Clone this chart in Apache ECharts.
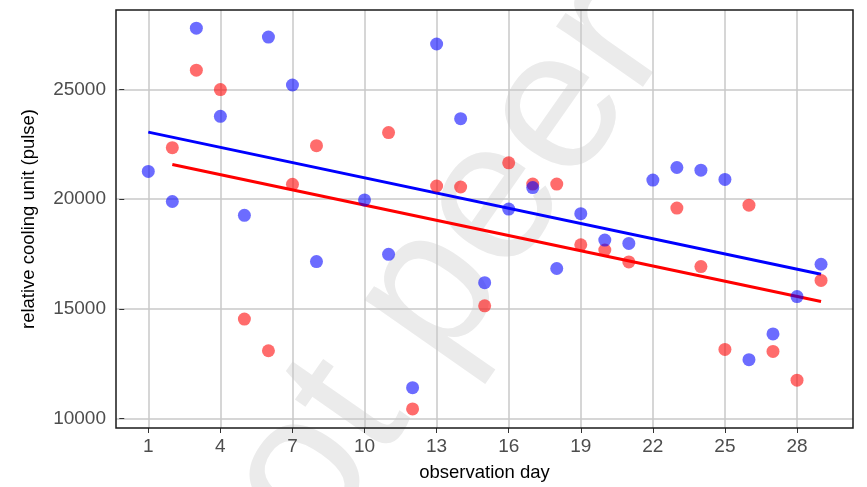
<!DOCTYPE html>
<html>
<head>
<meta charset="utf-8">
<script src="https://cdn.jsdelivr.net/npm/echarts@6/dist/echarts.min.js"></script>
<style>html,body{margin:0;padding:0;background:#fff}#c{width:867px;height:487px}</style>
</head>
<body>
<div id="c"></div>
<script>
const blueDays   = [1,2,3,4,5,6,7,8,10,11,12,13,14,15,16,17,18,19,20,21,22,23,24,25,26,27,28,29];
const blueValues = [21263,19894,27801,23780,19262,27394,25208,17152,19967,17482,11400,27078,23672,16190,19547,20527,16836,19340,18132,17979,20870,21444,21322,20902,12679,13854,15557,17030];
const redDays    = [2,3,4,5,6,7,8,11,12,13,14,15,16,17,18,19,20,21,23,24,25,26,27,28,29];
const redValues  = [22348,25885,25000,14532,13086,20676,22438,23039,10434,20600,20554,15133,21656,20690,20690,17920,17680,17138,19592,16926,13145,19727,13054,11744,16294];
const blueFitDays = [1,29];
const blueFitValues = [23057,16578];
const redFitDays = [2,29];
const redFitValues = [21580,15331];
const xTicks = [1,4,7,10,13,16,19,22,25,28];
const yTicks = [10000,15000,20000,25000];
const xTitle = 'observation day';
const yTitle = 'relative cooling unit (pulse)';
const watermark = 'not peer reviewed';

const pairs = (xs, ys) => xs.map((x, i) => [x, ys[i]]);
const FONT = '"Liberation Sans", Arial, sans-serif';

const chart = echarts.init(document.getElementById('c'), null, {renderer: 'canvas'});
chart.setOption({
  animation: false,
  backgroundColor: '#fff',
  graphic: [{
    type: 'text', z: -10, zlevel: 0, silent: true,
    x: 207, y: 613, rotation: 55 * Math.PI / 180,
    style: {text: watermark, fill: '#ebebeb', font: '200px ' + FONT, align: 'left', verticalAlign: 'middle'}
  }],
  grid: {left: 116, right: 14, top: 10, bottom: 55, show: true, borderColor: '#1a1a1a', borderWidth: 1.5, backgroundColor: 'transparent', z: 3},
  xAxis: {
    type: 'value', min: -0.344, max: 30.33,
    name: xTitle, nameLocation: 'middle', nameGap: 35,
    nameTextStyle: {color: '#000', fontSize: 18.5, fontFamily: FONT},
    axisLine: {show: false},
    axisTick: {show: true, customValues: xTicks, length: 5, lineStyle: {color: '#333', width: 1}},
    axisLabel: {customValues: xTicks, color: '#4d4d4d', fontSize: 19, fontFamily: FONT, margin: 9},
    splitLine: {show: true, lineStyle: {color: '#c8c8c8', width: 1.5}}
  },
  yAxis: {
    type: 'value', min: 9562, max: 28628,
    name: yTitle, nameLocation: 'middle', nameGap: 78, nameRotate: 90,
    nameTextStyle: {color: '#000', fontSize: 18.5, fontFamily: FONT},
    axisLine: {show: false},
    axisTick: {show: true, customValues: yTicks, length: 5, lineStyle: {color: '#333', width: 1}},
    axisLabel: {customValues: yTicks, color: '#4d4d4d', fontSize: 19, fontFamily: FONT, margin: 10,
      formatter: v => String(v)},
    splitLine: {show: true, lineStyle: {color: '#c8c8c8', width: 1.5}}
  },
  series: [
    {type: 'line', data: pairs(blueFitDays, blueFitValues), symbol: 'none', lineStyle: {color: '#0000ff', width: 3}, z: 4},
    {type: 'line', data: pairs(redFitDays, redFitValues), symbol: 'none', lineStyle: {color: '#ff0000', width: 3}, z: 4},
    {type: 'scatter', data: pairs(redDays, redValues), symbolSize: 13, itemStyle: {color: 'rgba(255,0,0,0.72)'}, z: 5},
    {type: 'scatter', data: pairs(blueDays, blueValues), symbolSize: 13, itemStyle: {color: 'rgba(0,0,255,0.72)'}, z: 5}
  ]
});
</script>
</body>
</html>
